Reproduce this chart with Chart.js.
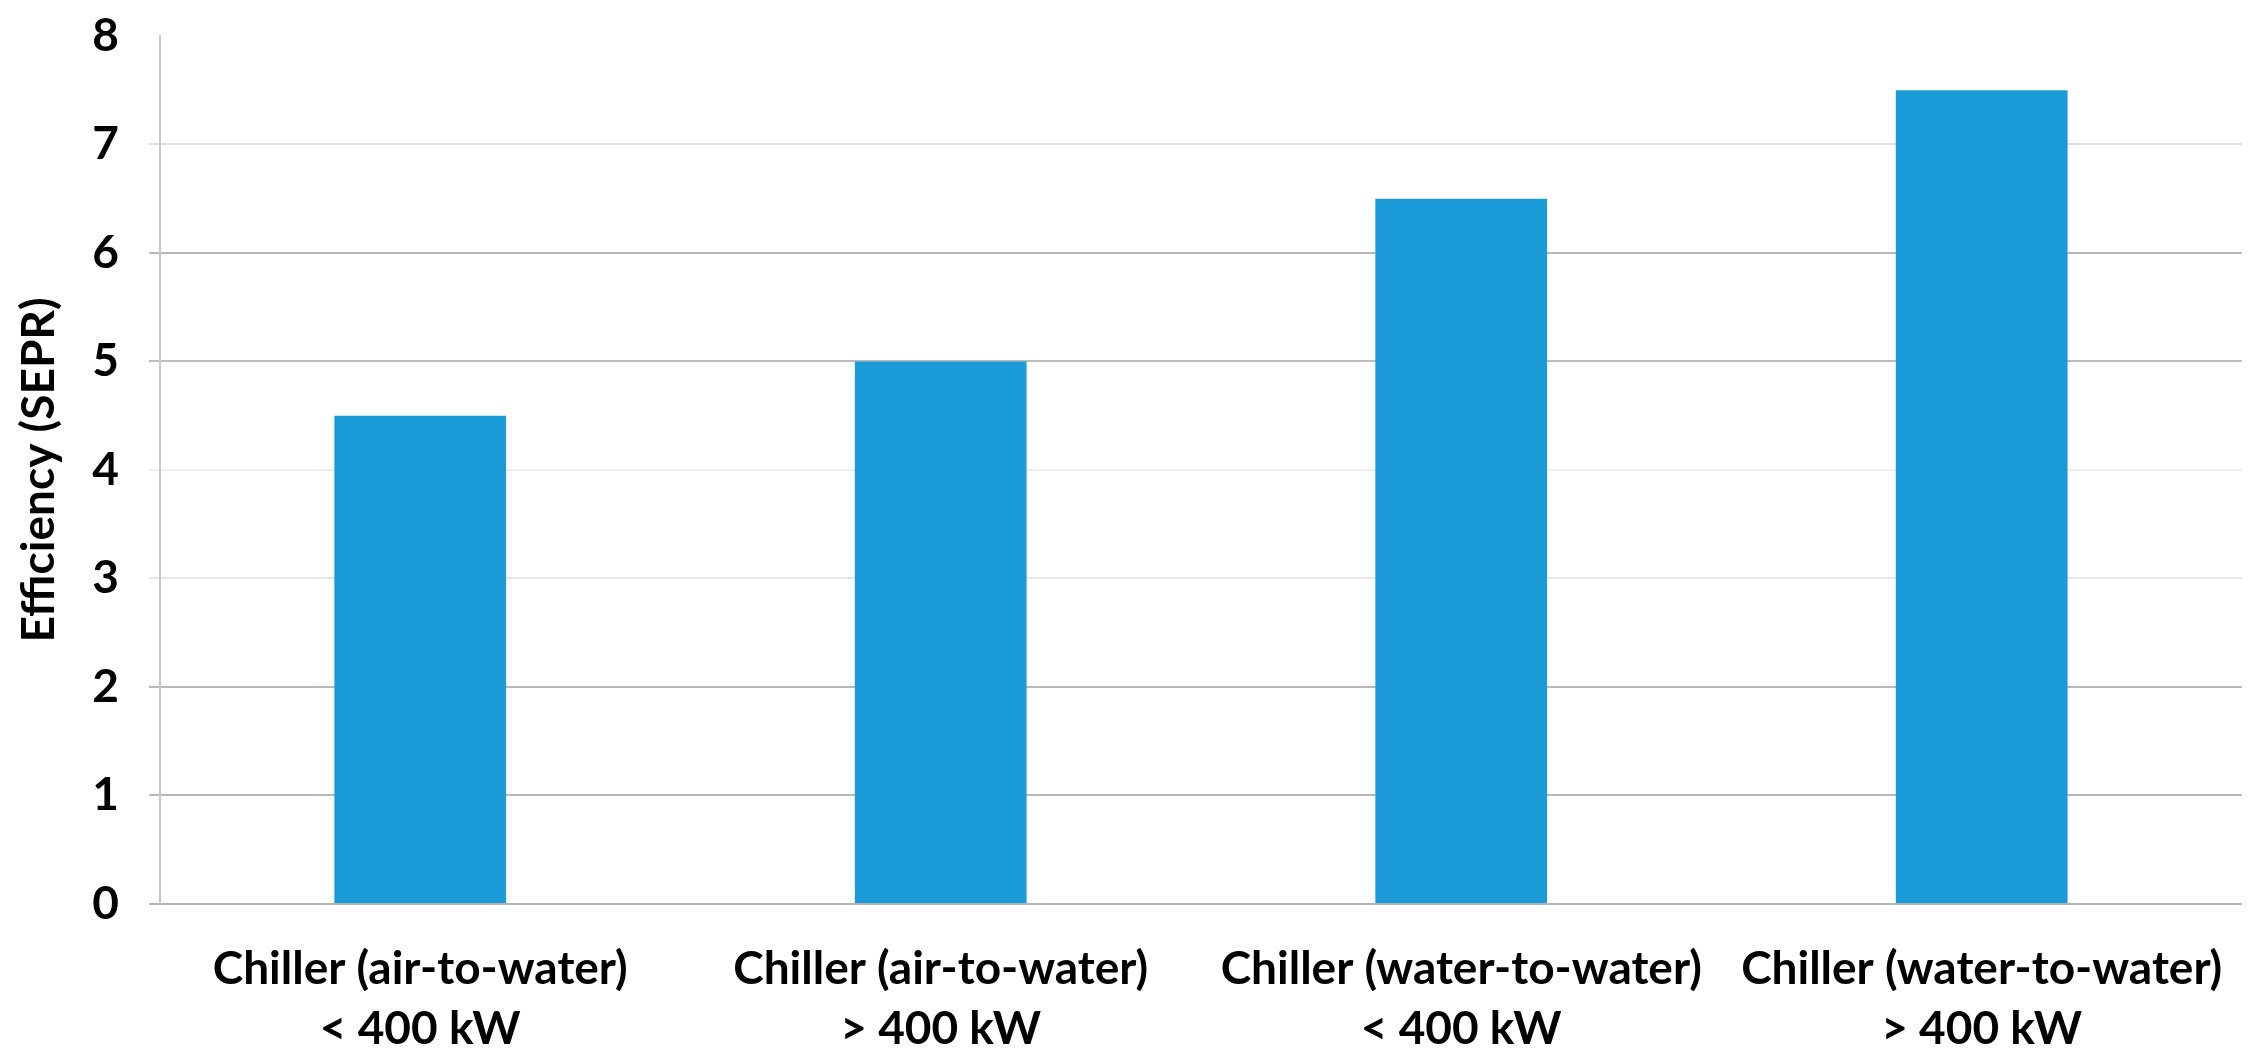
<!DOCTYPE html>
<html>
<head>
<meta charset="utf-8">
<script src="https://cdn.jsdelivr.net/npm/chart.js@4.4.1/dist/chart.umd.min.js"></script>
<style>
  html, body { margin: 0; padding: 0; background: #fff; }
  #wrap { width: 2258px; height: 1055px; }
</style>
</head>
<body>
<div id="wrap"><canvas id="sepr" width="2258" height="1055"></canvas></div>
<script>
// chiller types and size classes (two-line category labels)
const chillerTypes = [
	'Chiller (air-to-water)',
	'Chiller (air-to-water)',
	'Chiller (water-to-water)',
	'Chiller (water-to-water)'
];
const sizeClasses = ['< 400 kW', '> 400 kW', '< 400 kW', '> 400 kW'];

// minimum efficiency, SEPR
const seprValues = [4.5, 5.0, 6.5, 7.5];

// y axis ticks
const yTicks = [0, 1, 2, 3, 4, 5, 6, 7, 8];

const labels = chillerTypes.map((t, i) => [t, sizeClasses[i]]);

// gridline shades as they come out in the original picture
const gridShades = ['#b3b3b3', '#b8b8b8', '#b8b8b8', '#e6e6e6', '#eeeeee', '#bcbcbc', '#b8b8b8', '#dedede', 'rgba(0,0,0,0)'];

const font = { family: 'Lato', weight: 'bold', size: 46 };

let ctx = document.getElementById('sepr').getContext('2d');

let seprChart = new Chart(ctx, {
	type    : 'bar',
	data    : {
		labels   : labels,
		datasets : [
			{
				label              : 'Efficiency (SEPR)',
				data               : seprValues,
				backgroundColor    : '#1b9cd8',
				barPercentage      : 0.33,
				categoryPercentage : 1
			}
		]
	},
	options : {
		responsive : false,
		animation  : false,
		layout     : { padding: { top: 0, right: 6, bottom: 0, left: 0 } },
		plugins    : { legend: { display: false }, tooltip: { enabled: false } },
		scales     : {
			x : {
				grid   : { display: false, drawTicks: false },
				border : { display: true, color: '#b3b3b3', width: 2 },
				ticks  : {
					color       : '#000',
					padding     : 35,
					maxRotation : 0,
					autoSkip    : false,
					font        : Object.assign({}, font, { lineHeight: 1.3 })
				},
				afterFit : (scale) => { scale.height = 151; }
			},
			y : {
				min    : yTicks[0],
				max    : yTicks[yTicks.length - 1],
				grid   : {
					color      : (c) => gridShades[c.index] || '#d9d9d9',
					lineWidth  : 2,
					tickLength : 11
				},
				border : { display: true, color: '#c8c8c8', width: 2 },
				ticks  : {
					stepSize : 1,
					color    : '#000',
					padding  : 30,
					// small lineHeight keeps the plot top level with the "8" label
					font     : Object.assign({}, font, { lineHeight: 0.26 }),
					callback : (v) => (yTicks.includes(v) ? v : '')
				},
				title  : {
					display : true,
					text    : 'Efficiency (SEPR)',
					color   : '#000',
					font    : Object.assign({}, font, { lineHeight: 1.2 }),
					padding : { top: 12, bottom: 0 }
				},
				afterFit : (scale) => { scale.width = 160; }
			}
		}
	}
});
</script>
</body>
</html>
